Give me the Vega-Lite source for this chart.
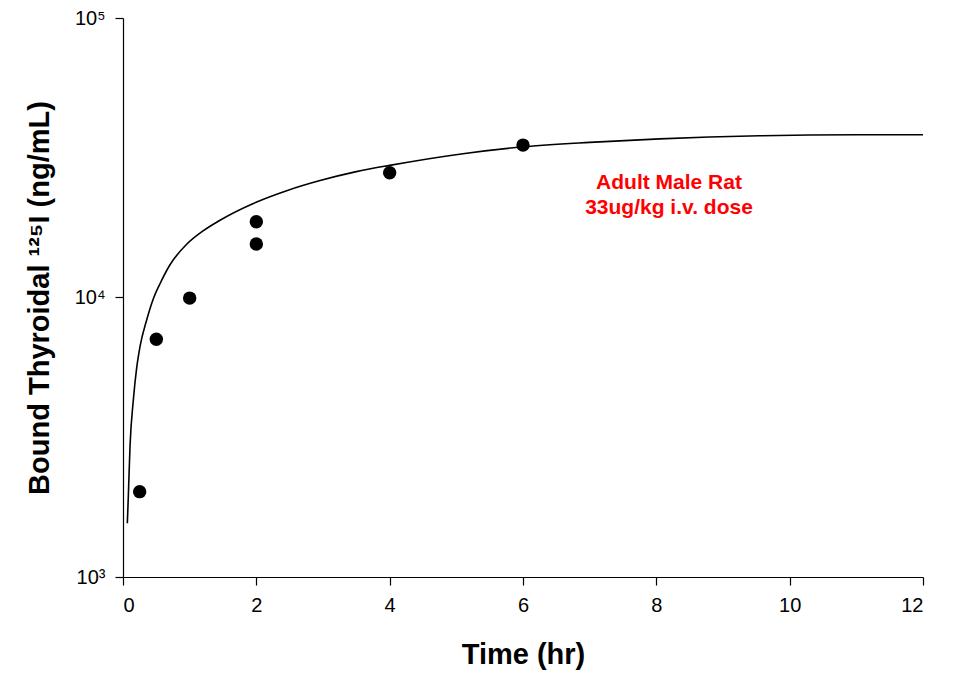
{
  "$schema": "https://vega.github.io/schema/vega-lite/v6.json",
  "width": 800,
  "height": 559,
  "autosize": {"type": "none"},
  "padding": {"left": 123, "top": 18, "right": 30, "bottom": 101},
  "background": "white",
  "config": {
    "font": "Liberation Sans",
    "view": {"stroke": null},
    "axis": {"grid": false, "domainColor": "black", "tickColor": "black", "labelColor": "black", "titleColor": "black", "domainWidth": 1.2, "tickWidth": 1.2}
  },
  "datasets": {
    "obs": [
      {"t": 0.25, "v": 2020},
      {"t": 0.5, "v": 7090},
      {"t": 1, "v": 9950},
      {"t": 2, "v": 18670},
      {"t": 2, "v": 15540},
      {"t": 4, "v": 27950},
      {"t": 6, "v": 35100}
    ],
    "fit": [
      {"t": 0.065, "v": 1556},
      {"t": 0.08, "v": 1950},
      {"t": 0.105, "v": 2925},
      {"t": 0.155, "v": 4300},
      {"t": 0.205, "v": 5600},
      {"t": 0.255, "v": 6670},
      {"t": 0.355, "v": 8310},
      {"t": 0.455, "v": 9900},
      {"t": 0.555, "v": 11200},
      {"t": 0.705, "v": 13100},
      {"t": 0.955, "v": 15500},
      {"t": 1.2, "v": 17300},
      {"t": 1.455, "v": 18900},
      {"t": 1.955, "v": 21700},
      {"t": 2.455, "v": 24100},
      {"t": 2.955, "v": 26200},
      {"t": 3.5, "v": 28200},
      {"t": 4.0, "v": 29700},
      {"t": 5.1, "v": 32700},
      {"t": 6.0, "v": 34600},
      {"t": 7.0, "v": 35900},
      {"t": 8.05, "v": 36950},
      {"t": 9.55, "v": 37900},
      {"t": 11.0, "v": 38200},
      {"t": 12.0, "v": 38200}
    ],
    "note": [
      {"t": 8.19, "v": 25690, "label": ["Adult Male Rat", "33ug/kg i.v. dose"]}
    ]
  },
  "encoding": {
    "x": {
      "field": "t", "type": "quantitative",
      "scale": {"domain": [0, 12], "nice": false, "zero": false},
      "axis": {"values": [0, 2, 4, 6, 8, 10, 12], "title": "Time (hr)", "titleFontSize": 29, "titleFontWeight": "bold", "titlePadding": 25, "labelFontSize": 20, "labelPadding": 10, "tickSize": 8, "labelFontWeight": "normal"}
    },
    "y": {
      "field": "v", "type": "quantitative",
      "scale": {"type": "log", "domain": [1000, 100000], "nice": false},
      "axis": {"values": [1000, 10000, 100000], "labelExpr": "datum.value == 1000 ? '10³' : datum.value == 10000 ? '10⁴' : '10⁵'", "title": "Bound Thyroidal ¹²⁵I (ng/mL)", "titleFontSize": 29, "titleFontWeight": "bold", "titlePadding": 20, "labelFontSize": 20, "labelPadding": 10, "tickSize": 8}
    }
  },
  "layer": [
    {
      "data": {"name": "fit"},
      "mark": {"type": "line", "color": "black", "strokeWidth": 1.6, "interpolate": "monotone"}
    },
    {
      "data": {"name": "obs"},
      "mark": {"type": "point", "filled": true, "color": "black", "opacity": 1, "size": 180, "shape": "circle"}
    },
    {
      "data": {"name": "note"},
      "mark": {"type": "text", "color": "#ff0000", "fontWeight": "bold", "fontSize": 21, "lineHeight": 25, "align": "center", "baseline": "middle"},
      "encoding": {"text": {"field": "label"}}
    }
  ]
}
